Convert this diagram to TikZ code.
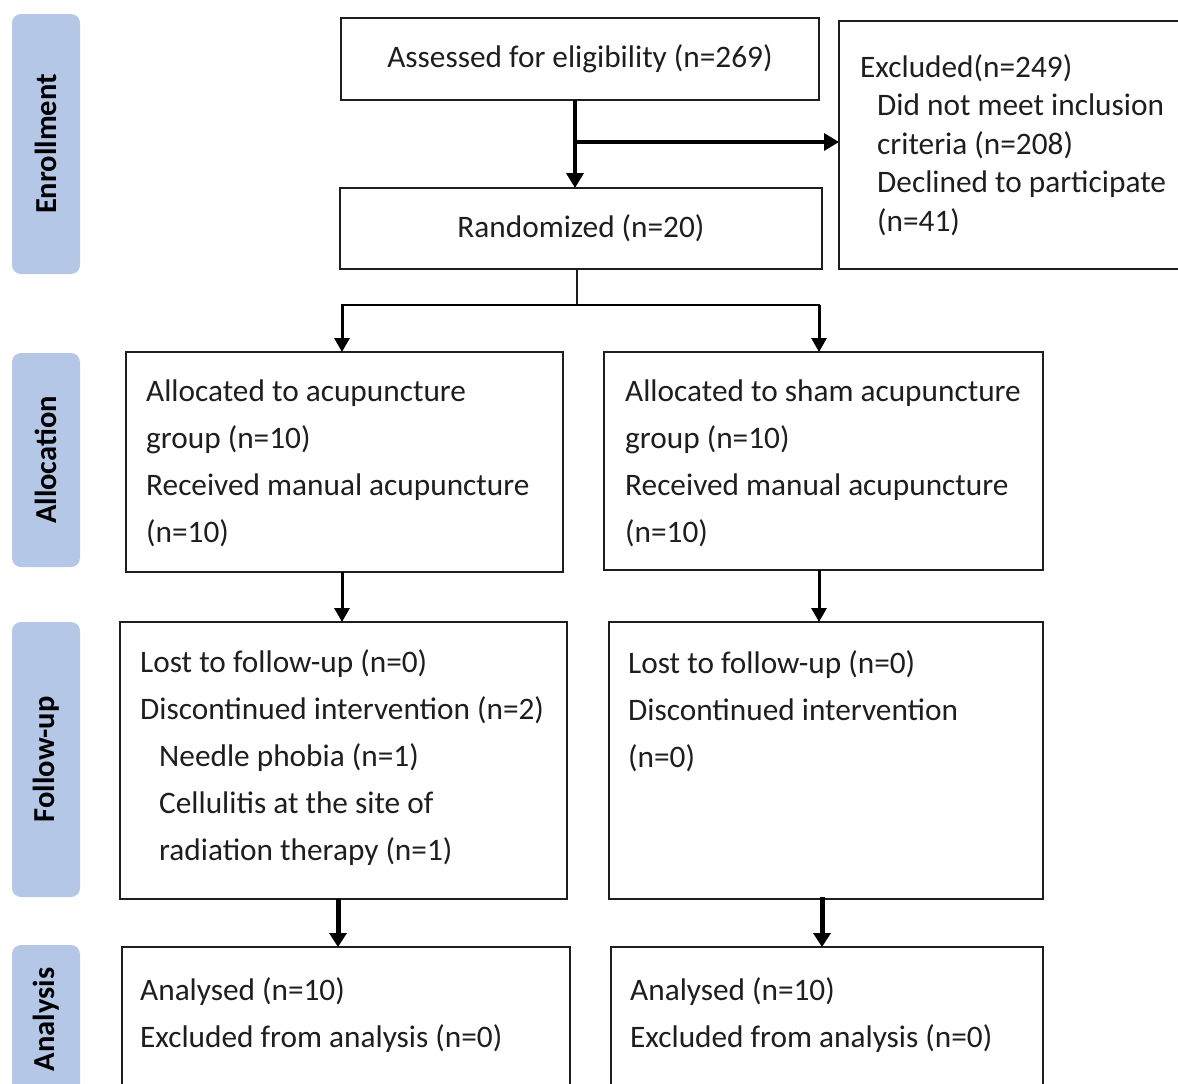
\documentclass[tikz,border=0pt]{standalone}
\usepackage{fontspec}
\setmainfont{Carlito}
\usetikzlibrary{arrows.meta}
\definecolor{barblue}{RGB}{180,199,231}
\definecolor{ink}{RGB}{30,30,30}
\tikzset{
  box/.style={draw=ink, line width=1.6pt, anchor=north west, inner sep=0pt, outer sep=0pt,
    font=\fontsize{31.3}{47}\selectfont, text=ink},
  txt/.style={anchor=west, align=left, inner sep=0pt, font=\fontsize{31.3}{47}\selectfont, text=ink},
  txtx/.style={anchor=west, align=left, inner sep=0pt, font=\fontsize{31.3}{38.5}\selectfont, text=ink},
  phase/.style={fill=barblue, draw=none, rounded corners=9pt, rotate=90, inner sep=0pt,
    minimum height=68pt, font=\fontsize{30.5}{32}\selectfont\bfseries, text=black},
  arrbig/.style={draw=black, line width=3.6pt, -{Triangle[width=17pt,length=15pt]}},
  arrmid/.style={draw=black, line width=3pt, -{Triangle[width=15pt,length=14pt]}},
  arrfat/.style={draw=black, line width=5pt, -{Triangle[width=17pt,length=14pt]}},
  thinline/.style={draw=ink, line width=1.5pt},
  branch/.style={draw=black, line width=2.6pt, line cap=rect},
}
\begin{document}
\begin{tikzpicture}[x=1pt,y=-1pt]
\useasboundingbox (0,0) rectangle (1178,1084);

% phase bars
\node[phase, minimum width=260pt] (pEnr) at (46,144) {Enrollment};
\node[phase, minimum width=214pt] (pAll) at (46,460) {Allocation};
\node[phase, minimum width=275pt] (pFol) at (46,759.5) {Follow-up};
\node[phase, minimum width=149pt] (pAna) at (46,1019.5) {Analysis};

% boxes
\node[box, minimum width=478pt, minimum height=82pt] (assessed) at (341,18) {Assessed for eligibility (n=269)};
\node[box, minimum width=350pt, minimum height=248pt] (excl) at (839,21) {};
\node[box, minimum width=482pt, minimum height=81pt] (random) at (340,188) {Randomized (n=20)};
\node[box, minimum width=437pt, minimum height=220pt] (allocL) at (126,352) {};
\node[box, minimum width=439pt, minimum height=218pt] (allocR) at (604,352) {};
\node[box, minimum width=447pt, minimum height=277pt] (followL) at (120,622) {};
\node[box, minimum width=434pt, minimum height=277pt] (followR) at (609,622) {};
\node[box, minimum width=448pt, minimum height=160pt] (analL) at (122,947) {};
\node[box, minimum width=432pt, minimum height=160pt] (analR) at (611,947) {};

% texts
\node[txtx] (exclT) at (860,145) {Excluded(n=249)\\\hspace*{17pt}Did not meet inclusion\\\hspace*{17pt}criteria (n=208)\\\hspace*{17pt}Declined to participate\\\hspace*{17pt}(n=41)};
\node[txt] (allocLT) at (146,463.5) {Allocated to acupuncture\\group (n=10)\\Received manual acupuncture\\(n=10)};
\node[txt] (allocRT) at (625,463.5) {Allocated to sham acupuncture\\group (n=10)\\Received manual acupuncture\\(n=10)};
\node[txt] (followLT) at (140,758) {Lost to follow-up (n=0)\\Discontinued intervention (n=2)\\\hspace*{19pt}Needle phobia (n=1)\\\hspace*{19pt}Cellulitis at the site of\\\hspace*{19pt}radiation therapy (n=1)};
\node[txt] (followRT) at (628,711) {Lost to follow-up (n=0)\\Discontinued intervention\\(n=0)};
\node[txt] (analLT) at (140,1015) {Analysed (n=10)\\Excluded from analysis (n=0)};
\node[txt] (analRT) at (630,1015) {Analysed (n=10)\\Excluded from analysis (n=0)};

% junctions
\coordinate (j1) at (575,142);
\coordinate (j2) at (577,305);
\coordinate (jl) at (342,305);
\coordinate (jr) at (819,305);
\coordinate (kl) at (338,923);
\coordinate (kr) at (822,923);

% connectors
\draw[arrbig] (assessed.south -| j1) -- (random.north -| j1);
\draw[arrbig] (j1) -- (j1 -| excl.west);
\draw[thinline] (random.south -| j2) -- (j2);
\draw[branch] (jl) -- (jr);
\draw[arrmid] (jl) -- (allocL.north -| jl);
\draw[arrmid] (jr) -- (allocR.north -| jr);
\draw[arrmid] (allocL.south -| jl) -- (followL.north -| jl);
\draw[arrmid] (allocR.south -| jr) -- (followR.north -| jr);
\draw[arrfat] (followL.south -| kl) -- (analL.north -| kl);
\draw[arrfat] ([yshift=2pt]followR.south -| kr) -- (analR.north -| kr);
\end{tikzpicture}
\end{document}
